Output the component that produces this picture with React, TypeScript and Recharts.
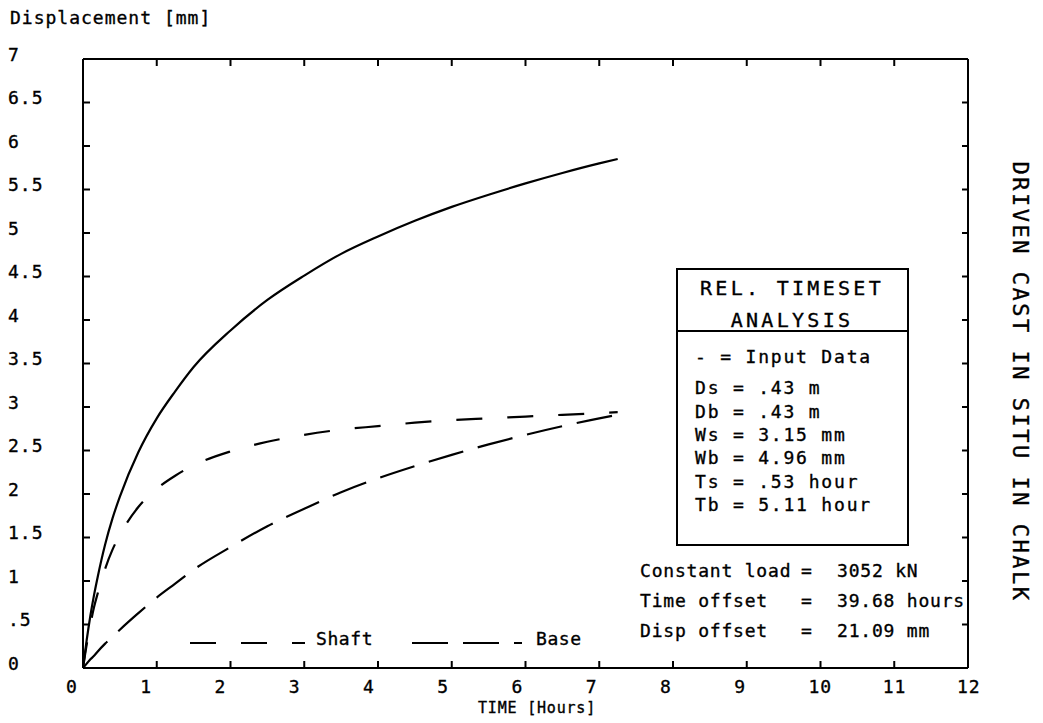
import { LineChart, Line, XAxis, YAxis } from 'recharts';

// time in hours, displacement in mm
const hours = [0, 0.05, 0.1, 0.15, 0.2, 0.3, 0.4, 0.5, 0.75, 1, 1.25, 1.5, 2, 2.5, 3, 3.5, 4, 4.5, 5, 5.5, 6, 6.5, 7, 7.25];
const shaftDisp = [0, 0.27, 0.5, 0.7, 0.86, 1.14, 1.36, 1.53, 1.85, 2.06, 2.21, 2.33, 2.49, 2.6, 2.68, 2.74, 2.78, 2.82, 2.85, 2.87, 2.89, 2.91, 2.93, 2.94];
const baseDisp = [0, 0.05, 0.1, 0.14, 0.19, 0.28, 0.36, 0.44, 0.63, 0.81, 0.97, 1.13, 1.39, 1.63, 1.83, 2.02, 2.18, 2.32, 2.45, 2.57, 2.68, 2.78, 2.87, 2.91];
const totalDisp = [0, 0.32, 0.6, 0.84, 1.05, 1.42, 1.72, 1.97, 2.48, 2.87, 3.18, 3.46, 3.88, 4.23, 4.51, 4.76, 4.96, 5.14, 5.3, 5.44, 5.57, 5.69, 5.8, 5.85];

const xTicks = [0, 1, 2, 3, 4, 5, 6, 7, 8, 9, 10, 11, 12];
const xTickLabels = ['0', '1', '2', '3', '4', '5', '6', '7', '8', '9', '10', '11', '12'];
const yTicks = [0, 0.5, 1, 1.5, 2, 2.5, 3, 3.5, 4, 4.5, 5, 5.5, 6, 6.5, 7];
const yTickLabels = ['0', '.5', '1', '1.5', '2', '2.5', '3', '3.5', '4', '4.5', '5', '5.5', '6', '6.5', '7'];

const boxTitle = ['REL. TIMESET', 'ANALYSIS'];
const boxLines = ['- = Input Data', 'Ds = .43 m', 'Db = .43 m', 'Ws = 3.15 mm', 'Wb = 4.96 mm', 'Ts = .53 hour', 'Tb = 5.11 hour'];
const statLabels = ['Constant load', 'Time offset', 'Disp offset'];
const statValues = ['3052 kN', '39.68 hours', '21.09 mm'];

const FONT = '"DejaVu Sans Mono", "Liberation Mono", monospace';
const SHAFT_DASH = '26 25';
const BASE_DASH = '36 15';

const rows = hours.map((t, i) => ({ t, total: totalDisp[i], shaft: shaftDisp[i], base: baseDisp[i] }));

// plotter text is a bit heavier than the plain mono font
const txt = { fontFamily: FONT, fontSize: 18, letterSpacing: 1, fill: '#000', stroke: '#000', strokeWidth: 0.35 };

const BottomTick = ({ x, y, payload, index }: any) => (
  <g>
    <line x1={x} y1={y} x2={x} y2={y - 7} stroke="#000" strokeWidth={2} />
    <text x={x - 17 + index * 0.5} y={y + 25} textAnchor="start" {...txt}>{xTickLabels[index] ?? payload.value}</text>
  </g>
);

const TopTick = ({ x, y }: any) => (
  <line x1={x} y1={y} x2={x} y2={y + 7} stroke="#000" strokeWidth={2} />
);

const LeftTick = ({ x, y, payload, index }: any) => (
  <g>
    <line x1={x} y1={y} x2={x + 7} y2={y} stroke="#000" strokeWidth={2} />
    <text x={x - 75} y={y + 1.5} textAnchor="start" {...txt}>{yTickLabels[index] ?? payload.value}</text>
  </g>
);

const RightTick = ({ x, y }: any) => (
  <line x1={x} y1={y} x2={x - 6} y2={y} stroke="#000" strokeWidth={2} />
);

export default function App() {
  const axisLine = { stroke: '#000', strokeWidth: 2 };
  return (
    <div style={{ position: 'absolute', left: 0, top: 0, width: 1043, height: 723, background: '#fff' }}>
      <LineChart width={1043} height={723} data={rows} margin={{ top: 58, right: 74, bottom: 0, left: 8 }}>
        <XAxis dataKey="t" type="number" domain={[0, 12]} ticks={xTicks} allowDataOverflow
          height={55} tickSize={0} tickMargin={0} axisLine={axisLine} tickLine={false} tick={<BottomTick />} />
        <XAxis xAxisId="top" dataKey="t" orientation="top" type="number" domain={[0, 12]} ticks={xTicks} allowDataOverflow
          height={1} tickSize={0} tickMargin={0} axisLine={axisLine} tickLine={false} tick={<TopTick />} />
        <YAxis type="number" domain={[0, 7]} ticks={yTicks} allowDataOverflow interval={0}
          width={75} tickSize={0} tickMargin={0} axisLine={axisLine} tickLine={false} tick={<LeftTick />} />
        <YAxis yAxisId="right" orientation="right" type="number" domain={[0, 7]} ticks={yTicks} allowDataOverflow interval={0}
          width={1} tickSize={0} tickMargin={0} axisLine={axisLine} tickLine={false} tick={<RightTick />} />
        <Line dataKey="total" type="monotone" stroke="#000" strokeWidth={2.2} dot={false} isAnimationActive={false} />
        <Line dataKey="shaft" type="monotone" stroke="#000" strokeWidth={2.2} strokeDasharray={SHAFT_DASH} dot={false} isAnimationActive={false} />
        <Line dataKey="base" type="monotone" stroke="#000" strokeWidth={2.2} strokeDasharray={BASE_DASH} dot={false} isAnimationActive={false} />
        <Line xAxisId="top" yAxisId="right" dataKey="total" stroke="none" dot={false} legendType="none" isAnimationActive={false} />
      </LineChart>

      <svg width={1043} height={723} style={{ position: 'absolute', left: 0, top: 0, pointerEvents: 'none' }}>
        <text x={10} y={24} {...txt}>Displacement [mm]</text>
        <text x={478} y={713} {...txt} fontSize={15} letterSpacing={0.8}>TIME [Hours]</text>
        <text x={1013} y={382} textAnchor="middle" transform="rotate(90 1013 382)" {...txt} fontSize={22} letterSpacing={2.5}>
          DRIVEN CAST IN SITU IN CHALK
        </text>

        {/* parameter box */}
        <rect x={677} y={269} width={231} height={276} fill="#fff" stroke="#000" strokeWidth={2} />
        <line x1={677} y1={331} x2={908} y2={331} stroke="#000" strokeWidth={2} />
        {boxTitle.map((s, i) => (
          <text key={s} x={792} y={295 + i * 32} textAnchor="middle" {...txt} fontSize={20} letterSpacing={3.3}>{s}</text>
        ))}
        {boxLines.map((s, i) => (
          <text key={s} x={695} y={363 + (i === 0 ? 0 : 8 + i * 23.3)} {...txt} letterSpacing={1.8}>{s}</text>
        ))}

        {statLabels.map((s, i) => (
          <g key={s}>
            <text x={640} y={577 + i * 30} {...txt} letterSpacing={0.8}>{s}</text>
            <text x={801} y={577 + i * 30} {...txt}>=</text>
            <text x={837} y={577 + i * 30} {...txt} letterSpacing={0.8}>{statValues[i]}</text>
          </g>
        ))}

        {/* legend */}
        <line x1={190} y1={643} x2={305} y2={643} stroke="#000" strokeWidth={2.2} strokeDasharray={SHAFT_DASH} />
        <text x={316} y={645} {...txt} letterSpacing={0.6}>Shaft</text>
        <line x1={412} y1={643} x2={522} y2={643} stroke="#000" strokeWidth={2.2} strokeDasharray={BASE_DASH} />
        <text x={536} y={645} {...txt} letterSpacing={0.6}>Base</text>
      </svg>
    </div>
  );
}
